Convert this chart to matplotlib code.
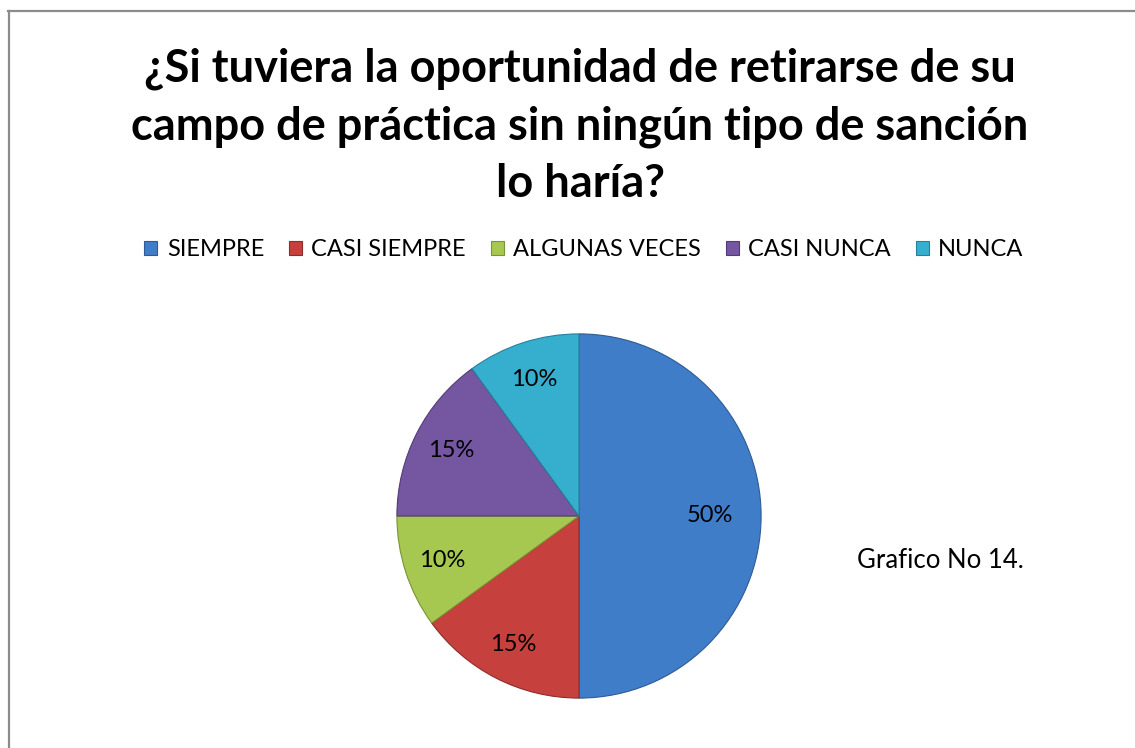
import matplotlib
matplotlib.use("Agg")
import matplotlib.pyplot as plt
from matplotlib.lines import Line2D

categories = ["SIEMPRE", "CASI SIEMPRE", "ALGUNAS VECES", "CASI NUNCA", "NUNCA"]
values = [50, 15, 10, 15, 10]
colors = ["#407DC9", "#C6413D", "#A6C850", "#7456A1", "#36AFCF"]
edge_colors = ["#2E5A94", "#8E2C29", "#7A9436", "#533C75", "#25819A"]
title = "¿Si tuviera la oportunidad de retirarse de su\ncampo de práctica sin ningún tipo de sanción\nlo haría?"
note = "Grafico No 14."

plt.rcParams['font.family'] = ['Lato', 'DejaVu Sans']

W, H = 1135, 748
fig = plt.figure(figsize=(W / 100, H / 100), dpi=100)
fig.patch.set_facecolor("white")

# frame (cropped: only left and top edges visible)
fig.add_artist(Line2D([8.5 / W, 8.5 / W], [0, 1 - 11 / H], transform=fig.transFigure,
                      color="#8C8C8C", lw=1.6))
fig.add_artist(Line2D([8 / W, 1], [1 - 11 / H, 1 - 11 / H], transform=fig.transFigure,
                      color="#8C8C8C", lw=1.6))

# pie
cx, cy, r = 579, 516, 183
ax = fig.add_axes([(cx - r) / W, (H - cy - r) / H, 2 * r / W, 2 * r / H])
wedges, texts, autotexts = ax.pie(
    values, colors=colors, startangle=90, counterclock=False,
    autopct=lambda p: f"{p:.0f}%", pctdistance=0.79, radius=1,
    wedgeprops=dict(linewidth=0.8, edgecolor="#3a3a3a"),
    textprops=dict(fontsize=17, color="black"))
for w, ec in zip(wedges, edge_colors):
    w.set_edgecolor(ec)
# the big slice's label sits a little closer to the centre
x0, y0 = autotexts[0].get_position()
autotexts[0].set_position((x0 * 0.72 / 0.79, y0 * 0.72 / 0.79))
ax.set_xlim(-1.005, 1.005)
ax.set_ylim(-1.005, 1.005)
ax.set_aspect("equal")
ax.axis("off")

fig.text(580 / W, 1 - 126 / H, title, ha="center", va="center", fontsize=32.5,
         fontweight="bold", linespacing=1.45)

fig.legend(wedges, categories, loc="center", bbox_to_anchor=(584 / W, 1 - 250 / H),
           ncol=5, frameon=False, fontsize=17, handlelength=0.55, handleheight=0.55,
           handletextpad=0.4, columnspacing=1.05)

fig.text(857 / W, 1 - 560 / H, note, ha="left", va="center", fontsize=18.5)

fig.savefig("out.png", dpi=100, facecolor="white")
